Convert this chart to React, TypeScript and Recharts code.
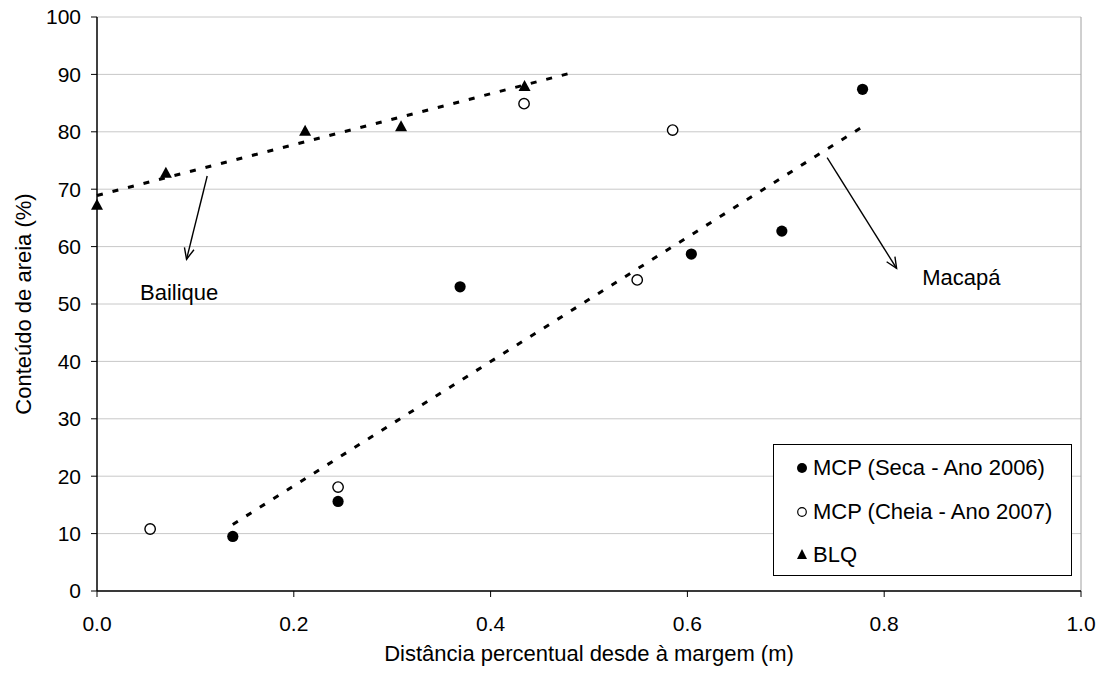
import React from "react";
import {
  ScatterChart,
  Scatter,
  XAxis,
  YAxis,
  CartesianGrid,
  ReferenceLine,
  ReferenceDot,
  Legend,
} from "recharts";

// distância (fração) e conteúdo de areia (%)
const mcpSecaX = [0.138, 0.245, 0.369, 0.604, 0.696, 0.778];
const mcpSecaY = [9.5, 15.6, 53.0, 58.7, 62.7, 87.4];

const mcpCheiaX = [0.054, 0.245, 0.434, 0.549, 0.585];
const mcpCheiaY = [10.8, 18.1, 84.9, 54.2, 80.3];

const blqX = [0.0, 0.07, 0.2115, 0.309, 0.4345];
const blqY = [67.2, 72.8, 80.1, 80.9, 87.9];

// linhas de tendencia (inicio / fim)
const trendMcpX = [0.138, 0.779];
const trendMcpY = [11.6, 81.0];
const trendBlqX = [0.0, 0.483];
const trendBlqY = [68.9, 90.3];

const xTicks = [0, 0.2, 0.4, 0.6, 0.8, 1.0];
const yTicks = [0, 10, 20, 30, 40, 50, 60, 70, 80, 90, 100];

const seriesNames = ["MCP (Seca - Ano 2006)", "MCP (Cheia - Ano 2007)", "BLQ"];

const toPoints = (xs: number[], ys: number[]) =>
  xs.map((x, i) => ({ x, y: ys[i] }));

const FONT = "'Liberation Sans', Arial, sans-serif";

const FilledDot = (p: any) => (
  <circle cx={p.cx} cy={p.cy} r={5.6} fill="#000" />
);
const OpenDot = (p: any) => (
  <circle cx={p.cx} cy={p.cy} r={5.2} fill="#fff" stroke="#000" strokeWidth={1.4} />
);
const Tri = (p: any) => (
  <path
    d={`M${p.cx},${p.cy - 6.5} L${p.cx + 6},${p.cy + 4.5} L${p.cx - 6},${p.cy + 4.5} Z`}
    fill="#000"
  />
);
const NoDot = () => <g />;

const Arrow = (p: any) => {
  const { x1, y1, x2, y2 } = p;
  const a = Math.atan2(y2 - y1, x2 - x1);
  const len = 12;
  const spread = 0.42;
  const ax = x2 - len * Math.cos(a - spread);
  const ay = y2 - len * Math.sin(a - spread);
  const bx = x2 - len * Math.cos(a + spread);
  const by = y2 - len * Math.sin(a + spread);
  return (
    <g stroke="#000" strokeWidth={1.4} fill="none">
      <line x1={x1} y1={y1} x2={x2} y2={y2} />
      <polyline points={`${ax},${ay} ${x2},${y2} ${bx},${by}`} />
    </g>
  );
};

const LegendBox = () => (
  <svg width={299} height={132} style={{ display: "block" }}>
    <rect x={0.5} y={0.5} width={298} height={131} fill="#fff" stroke="#000" />
    <circle cx={29} cy={24} r={5} fill="#000" />
    <text x={40} y={31} fontSize={22} fontFamily={FONT} fill="#000">
      {seriesNames[0]}
    </text>
    <circle cx={29} cy={68} r={4.3} fill="#fff" stroke="#000" strokeWidth={1.2} />
    <text x={40} y={75} fontSize={22} fontFamily={FONT} fill="#000">
      {seriesNames[1]}
    </text>
    <path d="M29,105 L34,115 L24,115 Z" fill="#000" />
    <text x={40} y={118} fontSize={22} fontFamily={FONT} fill="#000">
      {seriesNames[2]}
    </text>
  </svg>
);

export default function App() {
  return (
    <div style={{ position: "absolute", left: 0, top: 0, fontFamily: FONT, background: "#fff" }}>
      <ScatterChart
        width={1104}
        height={677}
        margin={{ top: 17, right: 23, bottom: 0, left: 0 }}
      >
        <CartesianGrid vertical={false} stroke="#c8c8c8" />
        <XAxis
          type="number"
          dataKey="x"
          domain={[0, 1]}
          ticks={xTicks}
          tickFormatter={(v: number) => v.toFixed(1)}
          height={86}
          tickSize={6}
          tickMargin={19}
          tick={{ fill: "#000", fontSize: 21 }}
          axisLine={{ stroke: "#000", strokeWidth: 1.5 }}
          tickLine={{ stroke: "#000" }}
          label={{
            value: "Distância percentual desde à margem (m)",
            position: "insideBottom",
            offset: 16,
            fill: "#000",
            fontSize: 22,
          }}
        />
        <YAxis
          type="number"
          dataKey="y"
          domain={[0, 100]}
          ticks={yTicks}
          width={97}
          tickSize={6}
          tickMargin={10}
          tick={{ fill: "#000", fontSize: 21 }}
          axisLine={{ stroke: "#000", strokeWidth: 1.5 }}
          tickLine={{ stroke: "#000" }}
          label={{
            value: "Conteúdo de areia (%)",
            angle: -90,
            position: "insideLeft",
            offset: 23,
            fill: "#000",
            fontSize: 22,
            style: { textAnchor: "middle" },
          }}
        />
        <ReferenceLine x={1} stroke="#a0a0a0" />
        <Scatter
          name="trend-blq"
          data={toPoints(trendBlqX, trendBlqY)}
          shape={NoDot}
          line={{ stroke: "#000", strokeWidth: 3, strokeDasharray: "6 10" }}
          legendType="none"
          isAnimationActive={false}
        />
        <Scatter
          name="trend-mcp"
          data={toPoints(trendMcpX, trendMcpY)}
          shape={NoDot}
          line={{ stroke: "#000", strokeWidth: 3, strokeDasharray: "6 10" }}
          legendType="none"
          isAnimationActive={false}
        />
        <Scatter
          name={seriesNames[0]}
          data={toPoints(mcpSecaX, mcpSecaY)}
          shape={FilledDot}
          isAnimationActive={false}
        />
        <Scatter
          name={seriesNames[1]}
          data={toPoints(mcpCheiaX, mcpCheiaY)}
          shape={OpenDot}
          isAnimationActive={false}
        />
        <Scatter
          name={seriesNames[2]}
          data={toPoints(blqX, blqY)}
          shape={Tri}
          isAnimationActive={false}
        />
        <ReferenceLine
          segment={[
            { x: 0.112, y: 72.3 },
            { x: 0.091, y: 57.8 },
          ]}
          shape={Arrow}
        />
        <ReferenceLine
          segment={[
            { x: 0.742, y: 75.5 },
            { x: 0.8126, y: 56.2 },
          ]}
          shape={Arrow}
        />
        <ReferenceDot
          x={0.0437}
          y={50.7}
          r={0}
          shape={(p: any) => (
            <text x={p.cx} y={p.cy} fontSize={22} fill="#000">
              Bailique
            </text>
          )}
        />
        <ReferenceDot
          x={0.8387}
          y={53.3}
          r={0}
          shape={(p: any) => (
            <text x={p.cx} y={p.cy} fontSize={22} fill="#000">
              Macapá
            </text>
          )}
        />
        <Legend
          layout="vertical"
          align="center"
          verticalAlign="middle"
          content={LegendBox}
          wrapperStyle={{ left: 773, top: 444, width: 299, height: 132 }}
        />
      </ScatterChart>
    </div>
  );
}
